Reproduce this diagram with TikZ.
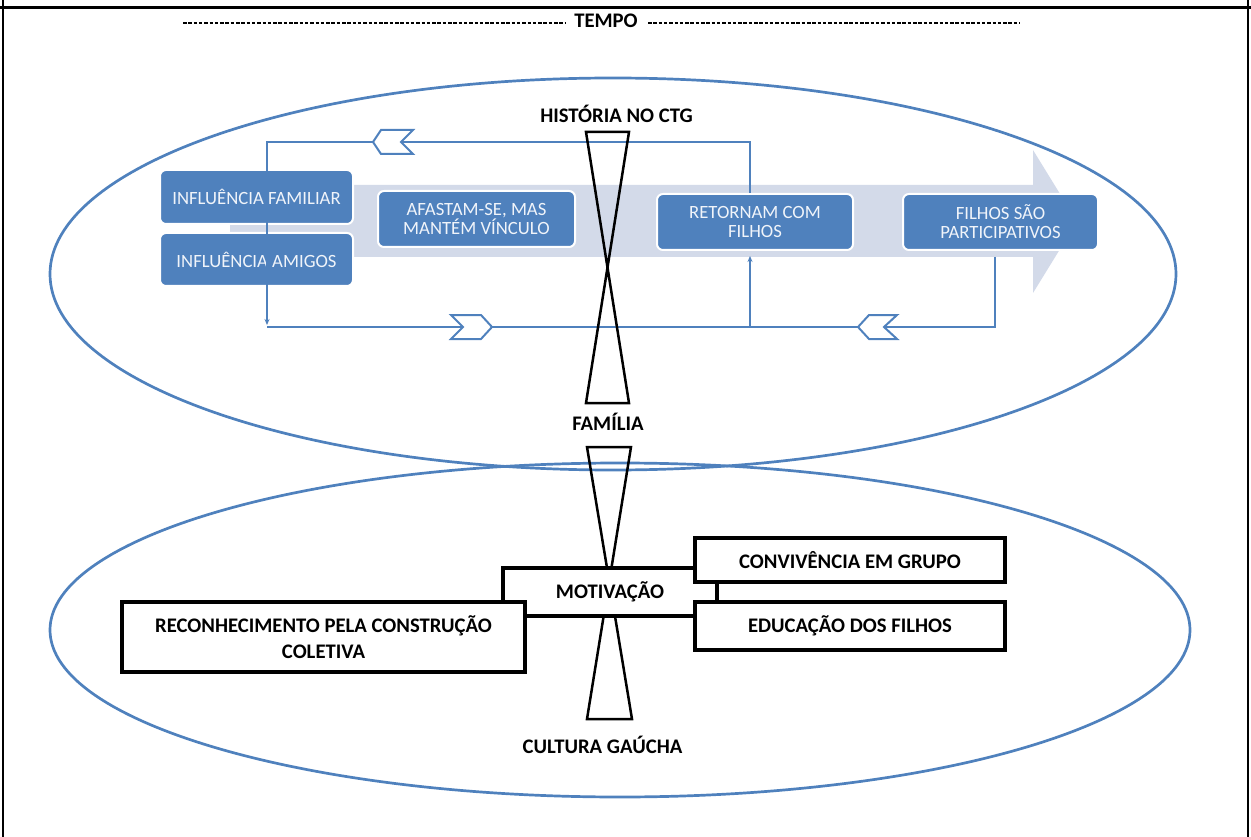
\documentclass[tikz,border=0pt]{standalone}
\usepackage{fontspec}
\setmainfont{Carlito}
\usetikzlibrary{arrows.meta}
\definecolor{obl}{RGB}{79,129,189}
\definecolor{band}{RGB}{211,218,233}
\definecolor{btxt}{RGB}{240,244,250}
\begin{document}
\begin{tikzpicture}[x=1pt,y=-1pt,
  bluebox/.style={rectangle, rounded corners=6pt, fill=obl, draw=white, line width=2pt, text=btxt, font=\fontsize{18.7}{19}\selectfont, align=center, inner sep=0pt},
  blackbox/.style={rectangle, draw=black, line width=3.5pt, fill=white, font=\bfseries\fontsize{20.7}{26}\selectfont, align=center, inner sep=0pt},
  lbl/.style={font=\bfseries\fontsize{20.7}{22}\selectfont, inner sep=0pt, anchor=base},
  conn/.style={draw=obl, line width=1.3pt},
  tip/.style={-{Stealth[length=6pt,width=5pt]}},
  chev/.style={draw=obl, fill=white, line width=2pt, line join=miter},
  hg/.style={draw=black, line width=2.5pt, line join=miter},
  ell/.style={draw=obl, line width=2.7pt},
  frame/.style={draw=black},
  tdash/.style={draw=black, line width=1.4pt, dash pattern=on 3.5pt off 1.8pt}
]
\useasboundingbox (0,0) rectangle (1251,837);
% frame
\draw[frame, line width=3pt] (0,8) -- (1251,8);
\draw[frame, line width=2pt] (3,0) -- (3,837);
\draw[frame, line width=2pt] (1248,0) -- (1248,837);
% tempo
\node[lbl] (tempo) at (606,28) {TEMPO};
\coordinate (d1) at (183,23);
\coordinate (d2) at (566,23);
\coordinate (d3) at (648,23);
\coordinate (d4) at (1020,23);
\draw[tdash] (d1) -- (d2);
\draw[tdash] (d3) -- (d4);
% ellipses
\draw[ell] (613,274) ellipse [x radius=563pt, y radius=196pt];
\draw[ell] (620,630) ellipse [x radius=570pt, y radius=167pt];
% big process arrow
\fill[band] (230,185) -- (1033,185) -- (1033,150) -- (1077,221.5) -- (1033,293) -- (1033,257) -- (230,257) -- cycle;
% blue boxes
\node[bluebox, minimum width=193pt, minimum height=54pt] (inffam) at (256.5,197) {INFLUÊNCIA FAMILIAR};
\node[bluebox, minimum width=193pt, minimum height=53pt] (infami) at (256.5,259.5) {INFLUÊNCIA AMIGOS};
\node[bluebox, minimum width=197pt, minimum height=56pt] (afa) at (476.5,219) {AFASTAM-SE, MAS\\MANTÉM VÍNCULO};
\node[bluebox, minimum width=196pt, minimum height=56pt] (ret) at (755,222) {RETORNAM COM\\FILHOS};
\node[bluebox, minimum width=195pt, minimum height=56pt] (fil) at (1000.5,222) {FILHOS SÃO\\PARTICIPATIVOS};
% connectors
\coordinate (t1) at (750,142);
\coordinate (t2) at (267,142);
\coordinate (b0) at (267,325);
\coordinate (b1) at (267,327);
\coordinate (b2) at (750,327);
\coordinate (b3) at (995,327);
\draw[conn, tip] (ret.north -| t1) -- (t1) -- (t2) -- (b0);
\draw[conn, tip, shorten >=5pt] (b1) -- (b2) -- (ret.south -| b2);
\draw[conn, shorten <=6pt] (fil.south -| b3) -- (b3) -- (b2);
% chevrons
\filldraw[chev] (373,142) -- (381,130) -- (413,130) -- (401,142) -- (413,154) -- (381,154) -- cycle;
\filldraw[chev] (492,327) -- (481,315) -- (451,315) -- (463,327) -- (451,339) -- (481,339) -- cycle;
\filldraw[chev] (858,327) -- (869,315) -- (897,315) -- (884,327) -- (897,339) -- (869,339) -- cycle;
% hourglasses
\draw[hg] (586,132) -- (629,132) -- (586,403) -- (629,403) -- cycle;
\draw[hg] (587,447) -- (631,447) -- (587,719) -- (632,719) -- cycle;
% labels
\node[lbl] (hist) at (616.5,123) {HISTÓRIA NO CTG};
\node[lbl] (fam) at (608,430) {FAMÍLIA};
\node[lbl] (cult) at (602.5,753) {CULTURA GAÚCHA};
% black boxes
\node[blackbox, minimum width=214pt, minimum height=48pt] (motiv) at (610,592) {MOTIVAÇÃO};
\node[blackbox, minimum width=310pt, minimum height=44pt] (conv) at (850,560) {CONVIVÊNCIA EM GRUPO};
\node[blackbox, minimum width=310pt, minimum height=48pt] (educ) at (850,626) {EDUCAÇÃO DOS FILHOS};
\node[blackbox, minimum width=403pt, minimum height=70pt] (recon) at (323.5,637) {RECONHECIMENTO PELA CONSTRUÇÃO\\COLETIVA};
\end{tikzpicture}
\end{document}
